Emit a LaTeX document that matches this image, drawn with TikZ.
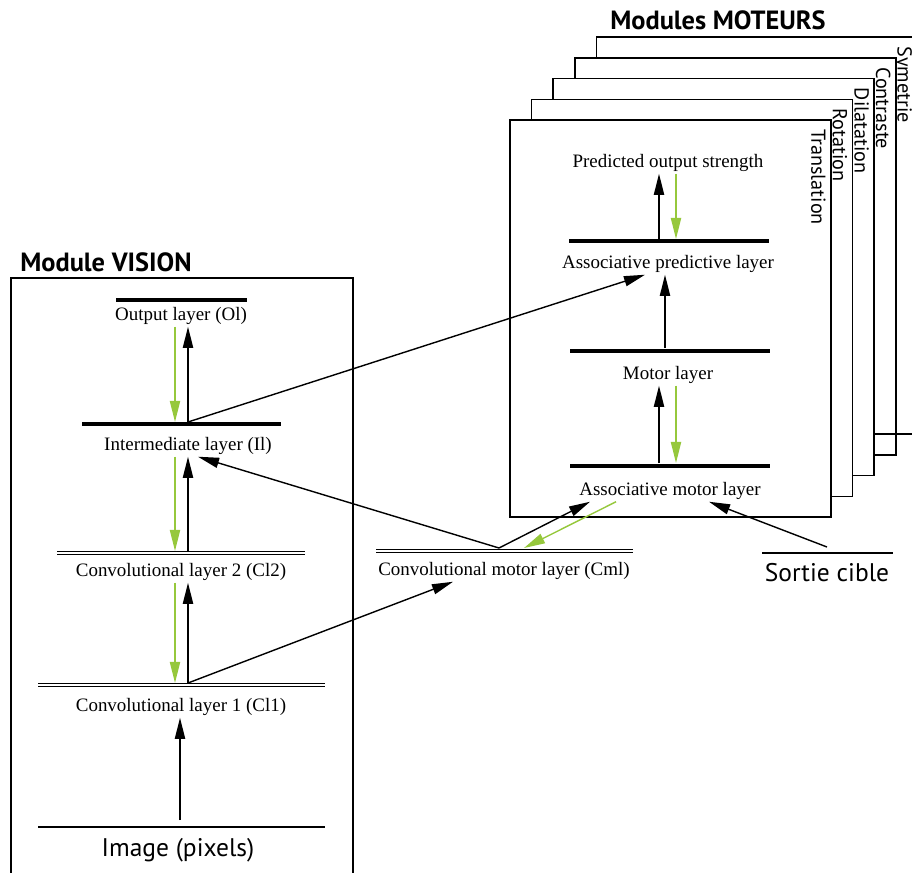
\documentclass[tikz,border=0pt]{standalone}
\usepackage{fontspec}
\setmainfont{Liberation Serif}
\setsansfont{PT Sans}
\usetikzlibrary{arrows.meta}
\definecolor{fbgreen}{RGB}{150,200,60}

\begin{document}
\begin{tikzpicture}[x=0.02cm, y=-0.02cm,
    fwdArrow/.style={-{Triangle[length=12pt, width=5.8pt]}, line width=0.8pt},
    fbkArrow/.style={fwdArrow, fbgreen},
    layerLine/.style={line width=1.9pt},
    convLine/.style={double, double distance=1.2pt, line width=0.8pt},
    layerText/.style={font=\fontsize{10.8}{13}\selectfont, inner sep=1pt},
    moduleTitle/.style={font=\sffamily\bfseries\fontsize{15}{17}\selectfont},
    sideText/.style={font=\sffamily\fontsize{11.5}{13}\selectfont, rotate=-90,
      anchor=north west, inner sep=0pt},
    inputText/.style={font=\sffamily\fontsize{14.5}{16}\selectfont},
    moduleBox/.style={draw, fill=white, line width=0.85pt}]
  \useasboundingbox (0,0) rectangle (912,872);

  %--- Motor modules (stacked, back to front) ---
  \foreach \i/\name in {4/Symetrie, 3/Contraste, 2/Dilatation, 1/Rotation, 0/Translation} {
    \draw[moduleBox] ({510+21.6*\i},{120-20.7*\i}) rectangle ({831+21.6*\i},{517-20.7*\i});
    \node[sideText] (side\i) at ({826+21.6*\i},{129-20.7*\i}) {\name};
  }
  \draw[line width=0.85pt] (874,434) -- (917,434);
  \node[moduleTitle] (motTitle) at (718,20) {Modules MOTEURS};

  %--- Vision module ---
  \draw[line width=0.85pt] (11,890) -- (11,278) -- (353,278) -- (353,890);
  \node[moduleTitle] (visTitle) at (106,262) {Module VISION};

  \draw[layerLine] (116,300) -- (247,300);
  \node[layerText] (Ol) at (181,316) {Output layer (Ol)};
  \draw[layerLine] (82,424) -- (281,424);
  \node[layerText] (Il) at (188,446) {Intermediate layer (Il)};
  \draw[convLine] (57,553) -- (305,553);
  \node[layerText] (Cl2) at (181,572) {Convolutional layer 2 (Cl2)};
  \draw[convLine] (38,685) -- (325,685);
  \node[layerText] (Cl1) at (181,707) {Convolutional layer 1 (Cl1)};
  \draw[line width=0.6pt] (38,827) -- (325,827);
  \node[inputText] (img) at (178,850) {Image (pixels)};

  \coordinate (Il-up) at (188,422);
  \coordinate (Il-dn) at (175,422);
  \coordinate (Cl2-up) at (188,551);
  \coordinate (Cl2-dn) at (175,551);
  \coordinate (Cl1-up) at (188,683);
  \coordinate (Cl1-dn) at (175,683);
  \coordinate (img-up) at (180,820);

  \draw[fwdArrow] (Il-up) -- (Il-up |- Ol.south);
  \draw[fbkArrow] (Il-dn |- Ol.south) -- (Il-dn);
  \draw[fwdArrow] (Cl2-up) -- (Cl2-up |- Il.south);
  \draw[fbkArrow] (Cl2-dn |- Il.south) -- (Cl2-dn);
  \draw[fwdArrow] (Cl1-up) -- (Cl1-up |- Cl2.south);
  \draw[fbkArrow] (Cl1-dn |- Cl2.south) -- (Cl1-dn);
  \draw[fwdArrow] (img-up) -- (img-up |- Cl1.south);

  %--- Front motor module: layers ---
  \node[layerText] (POS) at (668,163) {Predicted output strength};
  \draw[layerLine] (569,241) -- (769,241);
  \node[layerText] (AP) at (668,264) {Associative predictive layer};
  \draw[layerLine] (570,351) -- (770,351);
  \node[layerText] (ML) at (668,375) {Motor layer};
  \draw[layerLine] (570,466) -- (770,466);
  \node[layerText] (AM) at (670,491) {Associative motor layer};

  \coordinate (AP-up) at (659,239);
  \coordinate (AP-dn) at (676,239);
  \coordinate (ML-up) at (665,348);
  \coordinate (AM-up) at (659,463);
  \coordinate (AM-dn) at (676,463);

  \draw[fwdArrow] (AP-up) -- (AP-up |- POS.south);
  \draw[fbkArrow] (AP-dn |- POS.south) -- (AP-dn);
  \draw[fwdArrow] (ML-up) -- (ML-up |- AP.south);
  \draw[fwdArrow] (AM-up) -- (AM-up |- ML.south);
  \draw[fbkArrow] (AM-dn |- ML.south) -- (AM-dn);

  %--- Convolutional motor layer and target output ---
  \draw[convLine] (376,551) -- (633,551);
  \node[layerText] (Cml) at (504,571) {Convolutional motor layer (Cml)};
  \coordinate (Cml-top) at (499,548);
  \coordinate (Cml-fb) at (524,548);

  \draw[line width=0.6pt] (762,553) -- (893,553);
  \node[inputText] (sortie) at (827,573) {Sortie cible};
  \coordinate (sortie-out) at (827,547);

  %--- Long connections ---
  \draw[fwdArrow] (Il-up) -- ([xshift=-0.46cm]AP.south);
  \draw[fwdArrow] (Cl1-up) -- ([xshift=-1.02cm]Cml.south);
  \draw[fwdArrow] (Cml-top) -- ([xshift=0.2cm]Il.south);
  \draw[fwdArrow] (Cml-top) -- ([xshift=-1.6cm]AM.south);
  \draw[fbkArrow] ([xshift=-1.08cm]AM.south) -- (Cml-fb);
  \draw[fwdArrow] (sortie-out) -- ([xshift=0.78cm]AM.south);
\end{tikzpicture}
\end{document}
